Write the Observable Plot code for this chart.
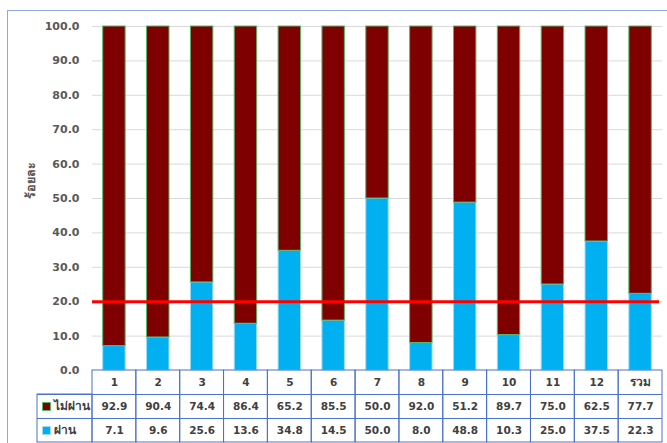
<!DOCTYPE html>
<html>
<head>
<meta charset="utf-8">
<script src="https://cdn.jsdelivr.net/npm/d3@7"></script>
<script src="https://cdn.jsdelivr.net/npm/@observablehq/plot@0.6"></script>
<style>
  html, body { margin: 0; padding: 0; background: #fff; }
  #wrap { position: relative; width: 667px; height: 443px; overflow: hidden; }
  #frame { position: absolute; left: 7px; top: 10px; width: 700px; height: 500px;
           border-top: 1.5px solid #8eaadb; border-left: 1.5px solid #8eaadb; box-sizing: border-box; }
  #chart { position: absolute; left: 0; top: 0; }
</style>
</head>
<body>
<div id="wrap"><div id="frame"></div><div id="chart"></div></div>
<script>
// ---- data ----
const categories = ["1", "2", "3", "4", "5", "6", "7", "8", "9", "10", "11", "12", "รวม"];
const failValues = [92.9, 90.4, 74.4, 86.4, 65.2, 85.5, 50.0, 92.0, 51.2, 89.7, 75.0, 62.5, 77.7];
const passValues = [7.1, 9.6, 25.6, 13.6, 34.8, 14.5, 50.0, 8.0, 48.8, 10.3, 25.0, 37.5, 22.3];
const seriesNames = ["ไม่ผ่าน", "ผ่าน"];
const yTicks = [0, 10, 20, 30, 40, 50, 60, 70, 80, 90, 100];
const threshold = [20];
const yTitle = "ร้อยละ";

// ---- layout / style ----
const W = 667, H = 443;
const mL = 92, mR = 5, mT = 26, mB = 73;
const bw = (W - mL - mR) / categories.length;
const rowH = 24;
const legendW = 55;
const failColor = "#7f0000", passColor = "#00b0f0";
const tableColor = "#4a72c8";
const font = "'DejaVu Sans', 'Noto Sans', sans-serif";
const isThai = s => /[\u0E00-\u0E7F]/.test(s);

const table = [
  {name: seriesNames[0], vals: failValues, color: failColor, stroke: "#55b86a", row: 1},
  {name: seriesNames[1], vals: passValues, color: passColor, stroke: "#9fdcf5", row: 2}
];

const plot = Plot.plot({
  width: W, height: H,
  marginLeft: mL, marginRight: mR, marginTop: mT, marginBottom: mB,
  style: {fontFamily: font, fontSize: "10px", fontWeight: "bold", background: "transparent", overflow: "visible"},
  x: {type: "band", domain: categories, padding: 0, round: false, axis: null},
  y: {domain: [0, 100], axis: null},
  marks: [
    // gridlines
    Plot.ruleY(yTicks.filter(d => d > 0), {stroke: "#d9d9d9", strokeWidth: 1}),
    // y axis labels
    Plot.axisY({ticks: yTicks, tickFormat: d => d.toFixed(1), tickSize: 0, tickPadding: 13,
                color: "#595959", fontSize: 11, fontWeight: "bold", label: null}),
    // y title
    Plot.text([yTitle], {frameAnchor: "left", dx: -62, rotate: -90, fill: "#595959",
                         fontSize: 12.5, fontWeight: "bold"}),
    // bars: pass (bottom)
    Plot.barY(categories, {x: d => d, y1: 0, y2: (d, i) => passValues[i],
      fill: passColor, stroke: "#9fdcf5", strokeWidth: 1, insetLeft: 10.7, insetRight: 10.7}),
    // bars: fail (top)
    Plot.barY(categories, {x: d => d, y1: (d, i) => passValues[i], y2: (d, i) => passValues[i] + failValues[i],
      fill: failColor, stroke: "#55b86a", strokeWidth: 1, insetLeft: 10.7, insetRight: 10.7}),
    // threshold line
    Plot.ruleY(threshold, {stroke: "#ff0000", strokeWidth: 3, insetRight: 3}),
    // table column cells
    Plot.barY(categories, {x: d => d, y1: 0, y2: 0, insetBottom: -3 * rowH,
      fill: "none", stroke: tableColor, strokeWidth: 1}),
    // table row lines
    Plot.ruleY([0], {dy: rowH, insetLeft: -legendW, stroke: tableColor, strokeWidth: 1}),
    Plot.ruleY([0], {dy: 2 * rowH, insetLeft: -legendW, stroke: tableColor, strokeWidth: 1}),
    // legend column box
    Plot.barY([categories[0]], {x: d => d, y1: 0, y2: 0, insetTop: rowH, insetBottom: -3 * rowH,
      insetLeft: -legendW, insetRight: bw, fill: "none", stroke: tableColor, strokeWidth: 1}),
    // header labels
    Plot.text(categories, {x: d => d, frameAnchor: "bottom", dy: rowH / 2, text: d => d,
      fill: "#404040", fontSize: d => isThai(d) ? 12 : 10.5, fontWeight: "bold", lineAnchor: "middle"}),
    // value rows
    ...table.map(t => Plot.text(categories, {x: d => d, frameAnchor: "bottom", dy: t.row * rowH + rowH / 2,
      text: (d, i) => t.vals[i].toFixed(1), fill: "#404040", fontSize: 10.5, fontWeight: "bold", lineAnchor: "middle"})),
    // legend swatches
    ...table.map(t => Plot.dot([t.name], {frameAnchor: "bottom-left", dx: -46, dy: t.row * rowH + rowH / 2,
      symbol: "square", r: 4.5, fill: t.color, stroke: t.stroke, strokeWidth: 1})),
    // legend labels
    ...table.map(t => Plot.text([t.name], {frameAnchor: "bottom-left", dx: -39, dy: t.row * rowH + rowH / 2,
      text: d => d, textAnchor: "start", fill: "#404040", fontSize: 12, fontWeight: "bold", lineAnchor: "middle"}))
  ]
});
document.getElementById("chart").appendChild(plot);
</script>
</body>
</html>
